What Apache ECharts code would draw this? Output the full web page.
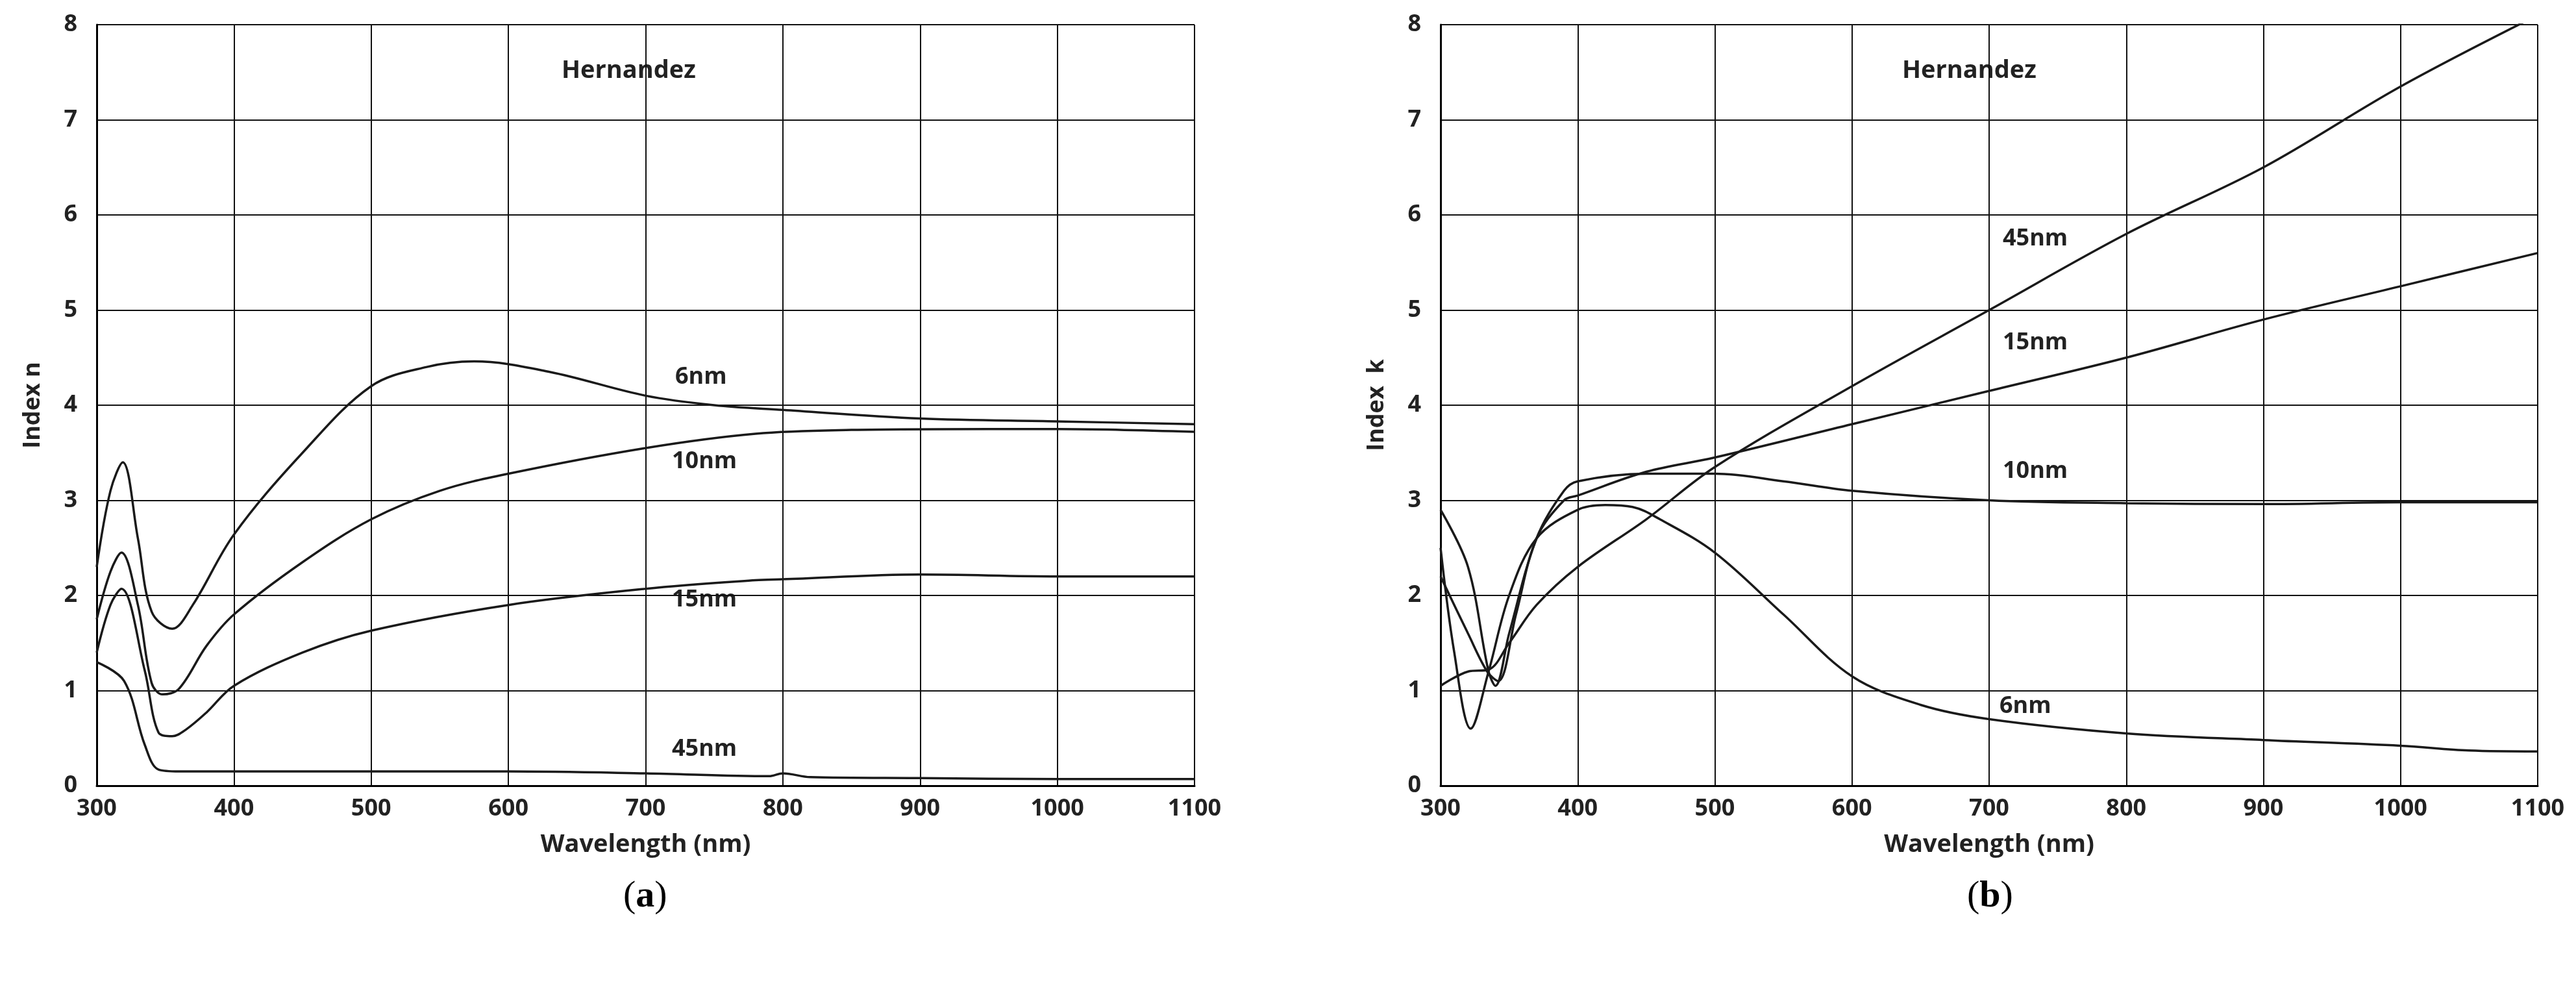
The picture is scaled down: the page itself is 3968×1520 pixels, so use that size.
<!DOCTYPE html>
<html>
<head>
<meta charset="utf-8">
<script src="https://cdn.jsdelivr.net/npm/echarts@6/dist/echarts.min.js"></script>
<style>
  html, body { margin: 0; padding: 0; background: #fff; }
  #chart { width: 3968px; height: 1520px; }
</style>
</head>
<body>
<div id="chart"></div>
<script>
// panel (a): refractive index n, [wavelength, n]
var n6 = [[300,2.3],[310,3.1],[319,3.4],[330,2.6],[340,1.83],[355,1.65],[370,1.9],[400,2.64],[450,3.5],[500,4.2],[540,4.4],[575,4.46],[630,4.35],[700,4.1],[750,4.0],[800,3.95],[900,3.86],[1000,3.83],[1100,3.8]];
var n10 = [[300,1.75],[310,2.25],[318,2.45],[330,1.9],[340,1.08],[348,0.96],[360,1.02],[380,1.47],[400,1.8],[450,2.35],[500,2.8],[550,3.1],[600,3.28],[700,3.55],[780,3.7],[850,3.74],[950,3.75],[1000,3.75],[1100,3.72]];
var n15 = [[300,1.4],[310,1.9],[318,2.07],[335,1.21],[345,0.56],[355,0.52],[365,0.59],[380,0.77],[400,1.05],[450,1.4],[500,1.63],[600,1.9],[700,2.07],[780,2.16],[800,2.17],[900,2.22],[1000,2.2],[1100,2.2]];
var n45 = [[300,1.3],[320,1.1],[335,0.43],[345,0.17],[360,0.15],[400,0.15],[500,0.15],[600,0.15],[700,0.13],[790,0.1],[800,0.13],[820,0.09],[900,0.08],[1000,0.07],[1100,0.07]];

// panel (b): extinction coefficient k, [wavelength, k]
var k6 = [[300,2.5],[310,1.4],[322,0.6],[335,1.2],[350,2.0],[370,2.6],[400,2.9],[420,2.95],[440,2.93],[460,2.8],[500,2.45],[550,1.8],[600,1.15],[650,0.85],[700,0.7],[800,0.55],[900,0.48],[1000,0.42],[1050,0.37],[1100,0.36]];
var k10 = [[300,2.9],[320,2.3],[335,1.2],[340,1.05],[350,1.6],[370,2.6],[390,3.1],[400,3.2],[450,3.28],[500,3.28],[550,3.2],[600,3.1],[700,3.0],[800,2.97],[900,2.96],[1000,2.98],[1100,2.98]];
var k15 = [[300,2.2],[320,1.6],[334,1.2],[342,1.1],[355,1.8],[370,2.6],[390,3.0],[400,3.05],[450,3.3],[500,3.45],[600,3.8],[700,4.15],[800,4.5],[900,4.9],[1000,5.25],[1100,5.6]];
var k45 = [[300,1.05],[320,1.2],[335,1.22],[350,1.5],[370,1.9],[400,2.3],[450,2.8],[500,3.35],[600,4.2],[700,5.0],[800,5.8],[900,6.5],[1000,7.35],[1100,8.1]];

var chart = echarts.init(document.getElementById('chart'));

function xAx(idx, name) {
    return {
        gridIndex: idx, type: 'value', min: 300, max: 1100, interval: 100,
        name: name, nameLocation: 'middle', nameGap: 72,
        nameTextStyle: {fontSize: 38, fontWeight: 'bold', color: '#222', fontFamily: 'Open Sans'},
        axisLine: {lineStyle: {color: '#000', width: 3}},
        axisTick: {show: false},
        axisLabel: {fontSize: 36, fontWeight: 'bold', color: '#222', margin: 18, fontFamily: 'Open Sans',
            formatter: function (v) { return String(v); }},
        splitLine: {show: true, lineStyle: {color: '#111', width: 2}}
    };
}
function yAx(idx, name) {
    return {
        gridIndex: idx, type: 'value', min: 0, max: 8, interval: 1,
        name: name, nameLocation: 'middle', nameGap: 80,
        nameTextStyle: {fontSize: 36, fontWeight: 'bold', color: '#222', fontFamily: 'Open Sans'},
        axisLine: {show: true, lineStyle: {color: '#000', width: 3}},
        axisTick: {show: false},
        axisLabel: {fontSize: 36, fontWeight: 'bold', color: '#222', margin: 30, fontFamily: 'Open Sans'},
        splitLine: {show: true, lineStyle: {color: '#111', width: 2}}
    };
}
function line(name, data, idx) {
    return {
        name: name, type: 'line', data: data, xAxisIndex: idx, yAxisIndex: idx,
        smooth: 0.35, showSymbol: false, clip: true,
        lineStyle: {color: '#1a1a1a', width: 3.5}
    };
}
function txt(x, y, s, size) {
    return {type: 'text', left: x, top: y,
        style: {text: s, fontSize: size || 36, fontWeight: 'bold', fill: '#222', fontFamily: 'Open Sans'}};
}
var rich = {a: {fontSize: 58, fontFamily: 'Liberation Serif', fill: '#000'},
            b: {fontSize: 58, fontWeight: 'bold', fontFamily: 'Liberation Serif', fill: '#000'}};

chart.setOption({
    backgroundColor: '#fff',
    animation: false,
    grid: [
        {left: 149, width: 1691, top: 38, height: 1172},
        {left: 2219, width: 1690, top: 38, height: 1172}
    ],
    xAxis: [xAx(0, 'Wavelength (nm)'), xAx(1, 'Wavelength (nm)')],
    yAxis: [yAx(0, 'Index n'), yAx(1, 'Index  k')],
    series: [
        line('6nm', n6, 0), line('10nm', n10, 0), line('15nm', n15, 0), line('45nm', n45, 0),
        line('6nm', k6, 1), line('10nm', k10, 1), line('15nm', k15, 1), line('45nm', k45, 1)
    ],
    graphic: [
        txt(865, 90, 'Hernandez', 38), txt(2930, 90, 'Hernandez', 38),
        txt(1040, 563, '6nm'), txt(1035, 693, '10nm'), txt(1035, 906, '15nm'), txt(1035, 1136, '45nm'),
        txt(3085, 350, '45nm'), txt(3085, 510, '15nm'), txt(3085, 708, '10nm'), txt(3080, 1070, '6nm'),
        {type: 'text', left: 960, top: 1352, style: {rich: rich, text: '{a|(}{b|a}{a|)}'}},
        {type: 'text', left: 3030, top: 1352, style: {rich: rich, text: '{a|(}{b|b}{a|)}'}}
    ]
});
</script>
</body>
</html>
